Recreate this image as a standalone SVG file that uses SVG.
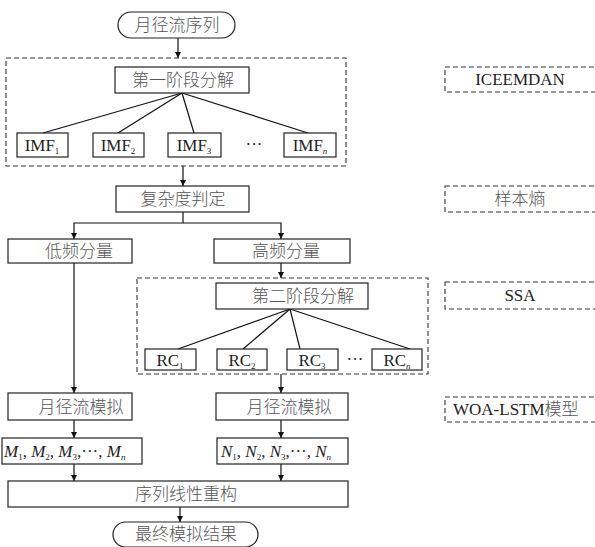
<svg xmlns="http://www.w3.org/2000/svg" width="595" height="547" viewBox="0 0 595 547">
<defs>
<marker id="ah" viewBox="0 0 10 10" refX="10" refY="5" markerWidth="6" markerHeight="6" markerUnits="userSpaceOnUse" orient="auto">
<path d="M0,0 L10,5 L0,10 z" fill="#111"/>
</marker>
<style>
.box{fill:#fff;stroke:#222;stroke-width:1.2}
.dash{fill:none;stroke:#333;stroke-width:1.1;stroke-dasharray:5,3}
.ln{fill:none;stroke:#111;stroke-width:1.2}
.arr{fill:none;stroke:#111;stroke-width:1.2;marker-end:url(#ah)}
.cn{font-family:"Noto Sans CJK SC","Noto Sans",sans-serif;font-size:17px;font-weight:300;fill:#555;text-anchor:middle}
.lt{font-family:"Liberation Serif","Times New Roman",serif;font-size:17px;fill:#222;text-anchor:middle}
.ls{font-family:"Liberation Serif","Times New Roman",serif;font-size:17px;fill:#222;text-anchor:start}
.it{font-family:"Liberation Serif",serif;font-size:17px;fill:#222;font-style:italic}
.sub{font-size:9px;font-style:normal}
.subi{font-size:9px;font-style:italic}
.up{font-style:normal}
.cjk{font-family:"Noto Sans CJK SC",sans-serif;font-weight:300;fill:#555}
</style>
</defs>

<g id="connectors">
<line class="arr" x1="178" y1="38" x2="178" y2="58"/>
<line class="ln" x1="182" y1="93" x2="43" y2="133"/>
<line class="ln" x1="182" y1="93" x2="118" y2="133"/>
<line class="ln" x1="182" y1="93" x2="194" y2="133"/>
<line class="ln" x1="182" y1="93" x2="308" y2="133"/>
<line class="arr" x1="183" y1="166" x2="183" y2="186"/>
<polyline class="ln" points="183,212 183,223"/>
<polyline class="arr" points="183,223 74,223 74,239"/>
<polyline class="arr" points="183,223 281,223 281,239"/>
<line class="arr" x1="281" y1="263" x2="281" y2="278"/>
<line class="ln" x1="290" y1="309" x2="178" y2="349"/>
<line class="ln" x1="290" y1="309" x2="243" y2="349"/>
<line class="ln" x1="290" y1="309" x2="300" y2="349"/>
<line class="ln" x1="290" y1="309" x2="410" y2="349"/>
<line class="arr" x1="74" y1="263" x2="74" y2="393"/>
<line class="arr" x1="281" y1="374" x2="281" y2="393"/>
<line class="arr" x1="74" y1="420" x2="74" y2="438"/>
<line class="arr" x1="281" y1="420" x2="281" y2="438"/>
<line class="arr" x1="74" y1="464" x2="74" y2="481"/>
<line class="arr" x1="281" y1="464" x2="281" y2="481"/>
<line class="arr" x1="180" y1="507" x2="180" y2="522"/>
</g>

<g id="stage1-group"><rect class="dash" x="6" y="58" width="340" height="108"/></g>
<g id="stage2-group"><rect class="dash" x="137" y="278" width="291" height="96"/></g>

<g id="start"><rect class="box" x="118" y="12" width="117" height="26" rx="13"/><text class="cn" x="177" y="31">月径流序列</text></g>
<g id="stage1"><rect class="box" x="115" y="67" width="134" height="26"/><text class="cn" x="183" y="86">第一阶段分解</text></g>

<g id="imf1"><rect class="box" x="17" y="133" width="51" height="24"/><text class="lt" x="42" y="151">IMF<tspan class="sub" dy="3">1</tspan></text></g>
<g id="imf2"><rect class="box" x="93" y="133" width="51" height="24"/><text class="lt" x="118" y="151">IMF<tspan class="sub" dy="3">2</tspan></text></g>
<g id="imf3"><rect class="box" x="168" y="133" width="53" height="24"/><text class="lt" x="194" y="151">IMF<tspan class="sub" dy="3">3</tspan></text></g>
<g id="imfdots"><text class="lt" x="254" y="150">···</text></g>
<g id="imfn"><rect class="box" x="284" y="133" width="52" height="24"/><text class="lt" x="310" y="151">IMF<tspan class="subi" dy="3">n</tspan></text></g>

<g id="complexity"><rect class="box" x="116" y="186" width="133" height="26"/><text class="cn" x="183" y="205">复杂度判定</text></g>
<g id="low"><rect class="box" x="8" y="239" width="124" height="24"/><text class="cn" x="79" y="257">低频分量</text></g>
<g id="high"><rect class="box" x="214" y="239" width="136" height="24"/><text class="cn" x="286" y="257">高频分量</text></g>

<g id="stage2"><rect class="box" x="216" y="283" width="152" height="26"/><text class="cn" x="303" y="302">第二阶段分解</text></g>
<g id="rc1"><rect class="box" x="145" y="349" width="51" height="21"/><text class="lt" x="170" y="366">RC<tspan class="sub" dy="3">1</tspan></text></g>
<g id="rc2"><rect class="box" x="217" y="349" width="50" height="21"/><text class="lt" x="242" y="366">RC<tspan class="sub" dy="3">2</tspan></text></g>
<g id="rc3"><rect class="box" x="287" y="349" width="51" height="21"/><text class="lt" x="312" y="366">RC<tspan class="sub" dy="3">3</tspan></text></g>
<g id="rcdots"><text class="lt" x="355" y="365">···</text></g>
<g id="rcn"><rect class="box" x="372" y="349" width="50" height="21"/><text class="lt" x="397" y="366">RC<tspan class="subi" dy="3">n</tspan></text></g>

<g id="sim-low"><rect class="box" x="8" y="393" width="124" height="27"/><text class="cn" x="81" y="413">月径流模拟</text></g>
<g id="sim-high"><rect class="box" x="216" y="393" width="132" height="27"/><text class="cn" x="289" y="413">月径流模拟</text></g>

<g id="m-series"><rect class="box" x="2" y="438" width="140" height="26"/><text class="it" x="4" y="457">M<tspan class="sub" dy="3">1</tspan><tspan class="up" dy="-3">, </tspan>M<tspan class="sub" dy="3">2</tspan><tspan class="up" dy="-3">, </tspan>M<tspan class="sub" dy="3">3</tspan><tspan class="up" dy="-3">,···, </tspan>M<tspan class="subi" dy="3">n</tspan></text></g>
<g id="n-series"><rect class="box" x="217" y="438" width="131" height="26"/><text class="it" x="221" y="457">N<tspan class="sub" dy="3">1</tspan><tspan class="up" dy="-3">, </tspan>N<tspan class="sub" dy="3">2</tspan><tspan class="up" dy="-3">, </tspan>N<tspan class="sub" dy="3">3</tspan><tspan class="up" dy="-3">,···, </tspan>N<tspan class="subi" dy="3">n</tspan></text></g>

<g id="reconstruct"><rect class="box" x="8" y="481" width="340" height="26"/><text class="cn" x="186" y="500">序列线性重构</text></g>
<g id="end"><rect class="box" x="113" y="522" width="145" height="25" rx="12.5"/><text class="cn" x="186" y="540">最终模拟结果</text></g>

<g id="legend-iceemdan"><rect class="dash" x="445" y="67" width="155" height="25"/><text class="lt" x="520" y="85">ICEEMDAN</text></g>
<g id="legend-entropy"><rect class="dash" x="445" y="186" width="155" height="26"/><text class="cn" x="520" y="205">样本熵</text></g>
<g id="legend-ssa"><rect class="dash" x="445" y="282" width="155" height="27"/><text class="lt" x="520" y="301">SSA</text></g>
<g id="legend-woa"><rect class="dash" x="445" y="397" width="155" height="25"/><text class="ls" x="453" y="415">WOA-LSTM<tspan class="cjk">模型</tspan></text></g>
</svg>
